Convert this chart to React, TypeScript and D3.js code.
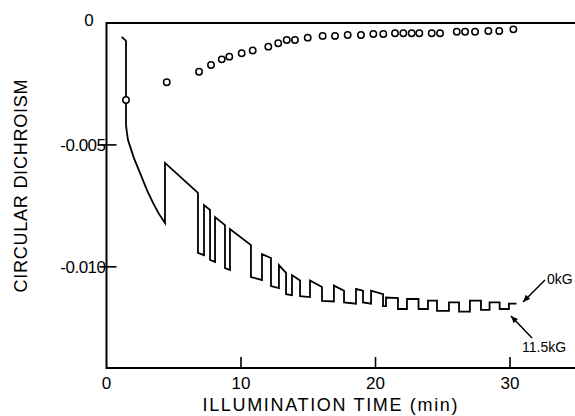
import React from "react";
import * as d3 from "d3";

// Illumination time (min) and circular dichroism of the step trace
const stepTime = [1.13,1.45,1.45,1.52,1.60,2.04,2.49,3.01,3.46,3.90,4.35,4.35,6.80,6.80,7.25,7.25,7.70,7.70,8.07,8.07,8.81,8.81,9.18,9.18,10.74,10.74,11.56,11.56,12.23,12.23,12.82,12.82,13.35,13.35,13.79,13.79,14.39,14.39,15.13,15.13,16.02,16.02,16.91,16.91,17.66,17.66,18.55,18.55,19.07,19.07,19.67,19.67,20.56,20.56,20.78,20.78,21.67,21.67,22.34,22.34,23.20,23.20,23.90,23.90,24.57,24.57,25.46,25.46,26.21,26.21,27.02,27.02,27.84,27.84,28.48,28.48,29.23,29.23,29.92,29.92,30.48];
const stepCD = [-0.00057,-0.00073,-0.00418,-0.00451,-0.00480,-0.00554,-0.00615,-0.00685,-0.00738,-0.00783,-0.00820,-0.00574,-0.00697,-0.00943,-0.00952,-0.00747,-0.00767,-0.00972,-0.00980,-0.00796,-0.00829,-0.01005,-0.01013,-0.00845,-0.00911,-0.01042,-0.01054,-0.00948,-0.00964,-0.01079,-0.01087,-0.00993,-0.01025,-0.01112,-0.01116,-0.01034,-0.01056,-0.01120,-0.01124,-0.01056,-0.01083,-0.01140,-0.01142,-0.01077,-0.01098,-0.01146,-0.01151,-0.01091,-0.01098,-0.01146,-0.01151,-0.01098,-0.01112,-0.01161,-0.01161,-0.01126,-0.01128,-0.01173,-0.01173,-0.01132,-0.01132,-0.01173,-0.01173,-0.01139,-0.01139,-0.01181,-0.01181,-0.01146,-0.01146,-0.01184,-0.01184,-0.01139,-0.01139,-0.01177,-0.01177,-0.01146,-0.01146,-0.01173,-0.01173,-0.01151,-0.01151];

// Open circles
const circleTime = [1.45,4.48,6.88,7.77,8.57,9.13,10.05,10.87,12.03,12.77,13.40,14.01,14.96,16.07,16.99,17.93,18.92,19.84,20.58,21.45,22.07,22.69,23.26,24.18,24.80,26.04,26.66,27.40,28.39,29.20,30.25];
const circleCD = [-0.00316,-0.00243,-0.00200,-0.00172,-0.00149,-0.00138,-0.00124,-0.00113,-0.00097,-0.00083,-0.00070,-0.00070,-0.00060,-0.00053,-0.00053,-0.00049,-0.00049,-0.00045,-0.00045,-0.00042,-0.00042,-0.00042,-0.00042,-0.00042,-0.00042,-0.00036,-0.00036,-0.00036,-0.00033,-0.00033,-0.00026];

const xTicks = [10, 20, 30];
const xTickLabels = ["0", "10", "20", "30"];
const xLabelValues = [0, 10, 20, 30];
const yTicks = [-0.005, -0.010];
const yTickLabels = ["-0.005", "-0.010"];

// annotations: [tailTime, tailCD, tipTime, tipCD]
const arrow0kG = [32.6, -0.01054, 30.97, -0.01144];
const arrow115kG = [31.64, -0.01292, 30.07, -0.01202];

const W = 575, H = 416;
const FONT = "'Liberation Sans', Arial, sans-serif";

export default function App() {
  const x = d3.scaleLinear().domain([0, 35]).range([106.5, 106.5 + 13.45 * 35]);
  const y = d3.scaleLinear().domain([0, -0.01415]).range([23, 368]);
  const x0 = x(0), yTop = y(0), yBot = y(-0.01415);

  const stepPts: [number, number][] = stepTime.map((t, i) => [t, stepCD[i]]);
  const line = d3.line<[number, number]>().x(d => x(d[0])).y(d => y(d[1]));

  const arrowHead = (a: number[]) => {
    const tx = x(a[2]), ty = y(a[3]);
    const sx = x(a[0]), sy = y(a[1]);
    const ang = Math.atan2(ty - sy, tx - sx);
    const L = 7, Wd = 3;
    const bx = tx - L * Math.cos(ang), by = ty - L * Math.sin(ang);
    const px = -Math.sin(ang) * Wd, py = Math.cos(ang) * Wd;
    return `M${tx},${ty}L${bx + px},${by + py}L${bx - px},${by - py}Z`;
  };

  return (
    <svg width={W} height={H} style={{ position: "absolute", left: 0, top: 0, background: "#fff" }}>
      {/* frame */}
      <g stroke="#000" strokeWidth={2} fill="none">
        <line x1={x0} y1={yTop} x2={W} y2={yTop} />
        <line x1={x0} y1={yBot} x2={W} y2={yBot} />
        <line x1={x0} y1={yTop - 1} x2={x0} y2={yBot + 1} />
        {xTicks.map(t => (
          <line key={t} x1={x(t)} x2={x(t)} y1={yBot} y2={yBot - 11} strokeWidth={1.6} />
        ))}
        {yTicks.map(v => (
          <line key={v} x1={x0 - 7} x2={x0 + 10} y1={y(v)} y2={y(v)} strokeWidth={1.6} />
        ))}
      </g>
      {/* tick labels */}
      <g fontFamily={FONT} fontSize={17} fill="#000">
        {xLabelValues.map((t, i) => (
          <text key={t} x={x(t)} y={389} textAnchor="middle">{xTickLabels[i]}</text>
        ))}
        <text x={89} y={26} textAnchor="middle">0</text>
        {yTicks.map((v, i) => (
          <text key={v} x={x0 - 1} y={y(v) + 6} textAnchor="end" letterSpacing={-0.5}>{yTickLabels[i]}</text>
        ))}
      </g>
      {/* titles */}
      <text x={330} y={411} textAnchor="middle" fontFamily={FONT} fontSize={18} textLength={255} lengthAdjust="spacing">ILLUMINATION  TIME  (min)</text>
      <text transform="translate(27,186) rotate(-90)" textAnchor="middle" fontFamily={FONT} fontSize={18} textLength={213} lengthAdjust="spacing">CIRCULAR  DICHROISM</text>

      {/* step trace */}
      <path d={line(stepPts) || ""} fill="none" stroke="#000" strokeWidth={1.8} strokeLinejoin="miter" />

      {/* circles */}
      <g fill="#fff" stroke="#000" strokeWidth={1.5}>
        {circleTime.map((t, i) => (
          <circle key={i} cx={x(t)} cy={y(circleCD[i])} r={3.2} />
        ))}
      </g>

      {/* annotations */}
      {[arrow0kG, arrow115kG].map((a, i) => (
        <g key={i}>
          <line x1={x(a[0])} y1={y(a[1])} x2={x(a[2])} y2={y(a[3])} stroke="#000" strokeWidth={1.5} />
          <path d={arrowHead(a)} fill="#000" />
        </g>
      ))}
      <text x={547} y={284} fontFamily={FONT} fontSize={14}>0kG</text>
      <text x={522} y={352} fontFamily={FONT} fontSize={14}>11.5kG</text>
    </svg>
  );
}
